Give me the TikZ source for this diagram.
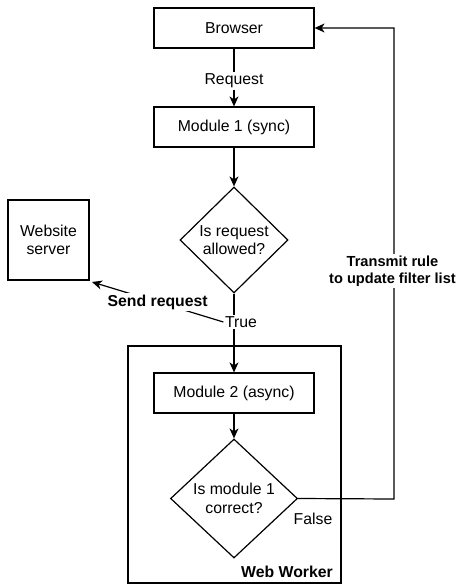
\documentclass[tikz,border=0pt]{standalone}
\usepackage{fontspec}
\setmainfont{Liberation Sans}
\usetikzlibrary{shapes.geometric,arrows.meta}
\begin{document}
\begin{tikzpicture}[x=1pt,y=-1pt,
  every node/.style={font=\fontsize{15.8}{18.5}\selectfont},
  box/.style={draw, line width=1.2pt, inner sep=0pt, align=center},
  decision/.style={draw, diamond, line width=1.2pt, inner sep=0pt, align=center},
  conn/.style={line width=1.2pt, -{Stealth[length=10pt,width=9pt,inset=3pt]}},
  lbl/.style={fill=white, inner sep=1.5pt, align=center},
  blbl/.style={fill=white, inner sep=1.5pt, align=center, font=\fontsize{15.8}{18.5}\selectfont\bfseries}
]
\useasboundingbox (0,0) rectangle (458,585);
% container
\node[box, minimum width=213pt, minimum height=237pt] (worker) at (234.5,464.5) {};
\node[font=\fontsize{15.8}{18.5}\selectfont\bfseries, anchor=south east, inner sep=0pt] (wwlabel) at (333,578) {Web Worker};
% boxes
\node[box, minimum width=160pt, minimum height=40pt] (browser) at (234,28) {Browser};
\node[box, minimum width=160pt, minimum height=40pt] (m1) at (234,127) {Module 1 (sync)};
\node[decision, minimum width=108pt, minimum height=106pt] (d1) at (234,240) {Is request\\allowed?};
\node[box, minimum width=81pt, minimum height=80pt] (server) at (48.5,240) {Website\\server};
\node[box, minimum width=160pt, minimum height=40pt] (m2) at (234,393) {Module 2 (async)};
\node[decision, minimum width=127pt, minimum height=119pt] (d2) at (234,498.5) {Is module 1\\correct?};
% labels
\node[lbl] (true) at (241,322) {True};
\node[lbl] (false) at (313,519) {False};
\coordinate (corner) at (394,499);
\coordinate (top) at (394,28);
\coordinate (srv) at (92,282);
% connectors
\draw[conn] (browser) -- node[lbl, pos=0.56] {Request} (m1);
\draw[conn] (m1) -- (d1);
\draw[conn] (d1.south) -- (m2.north);
\draw[conn] (m2) -- (d2);
\draw[conn] (true.west) -- node[blbl, midway] {Send request} (srv);
\draw[conn] (d2.east) -- (corner) -- node[blbl, pos=0.484, xshift=-1.5pt, font=\fontsize{14.6}{17.5}\selectfont\bfseries] {Transmit rule\\to update filter list} (top) -- (browser.east);
\node[lbl] at (true) {True};
\end{tikzpicture}
\end{document}
